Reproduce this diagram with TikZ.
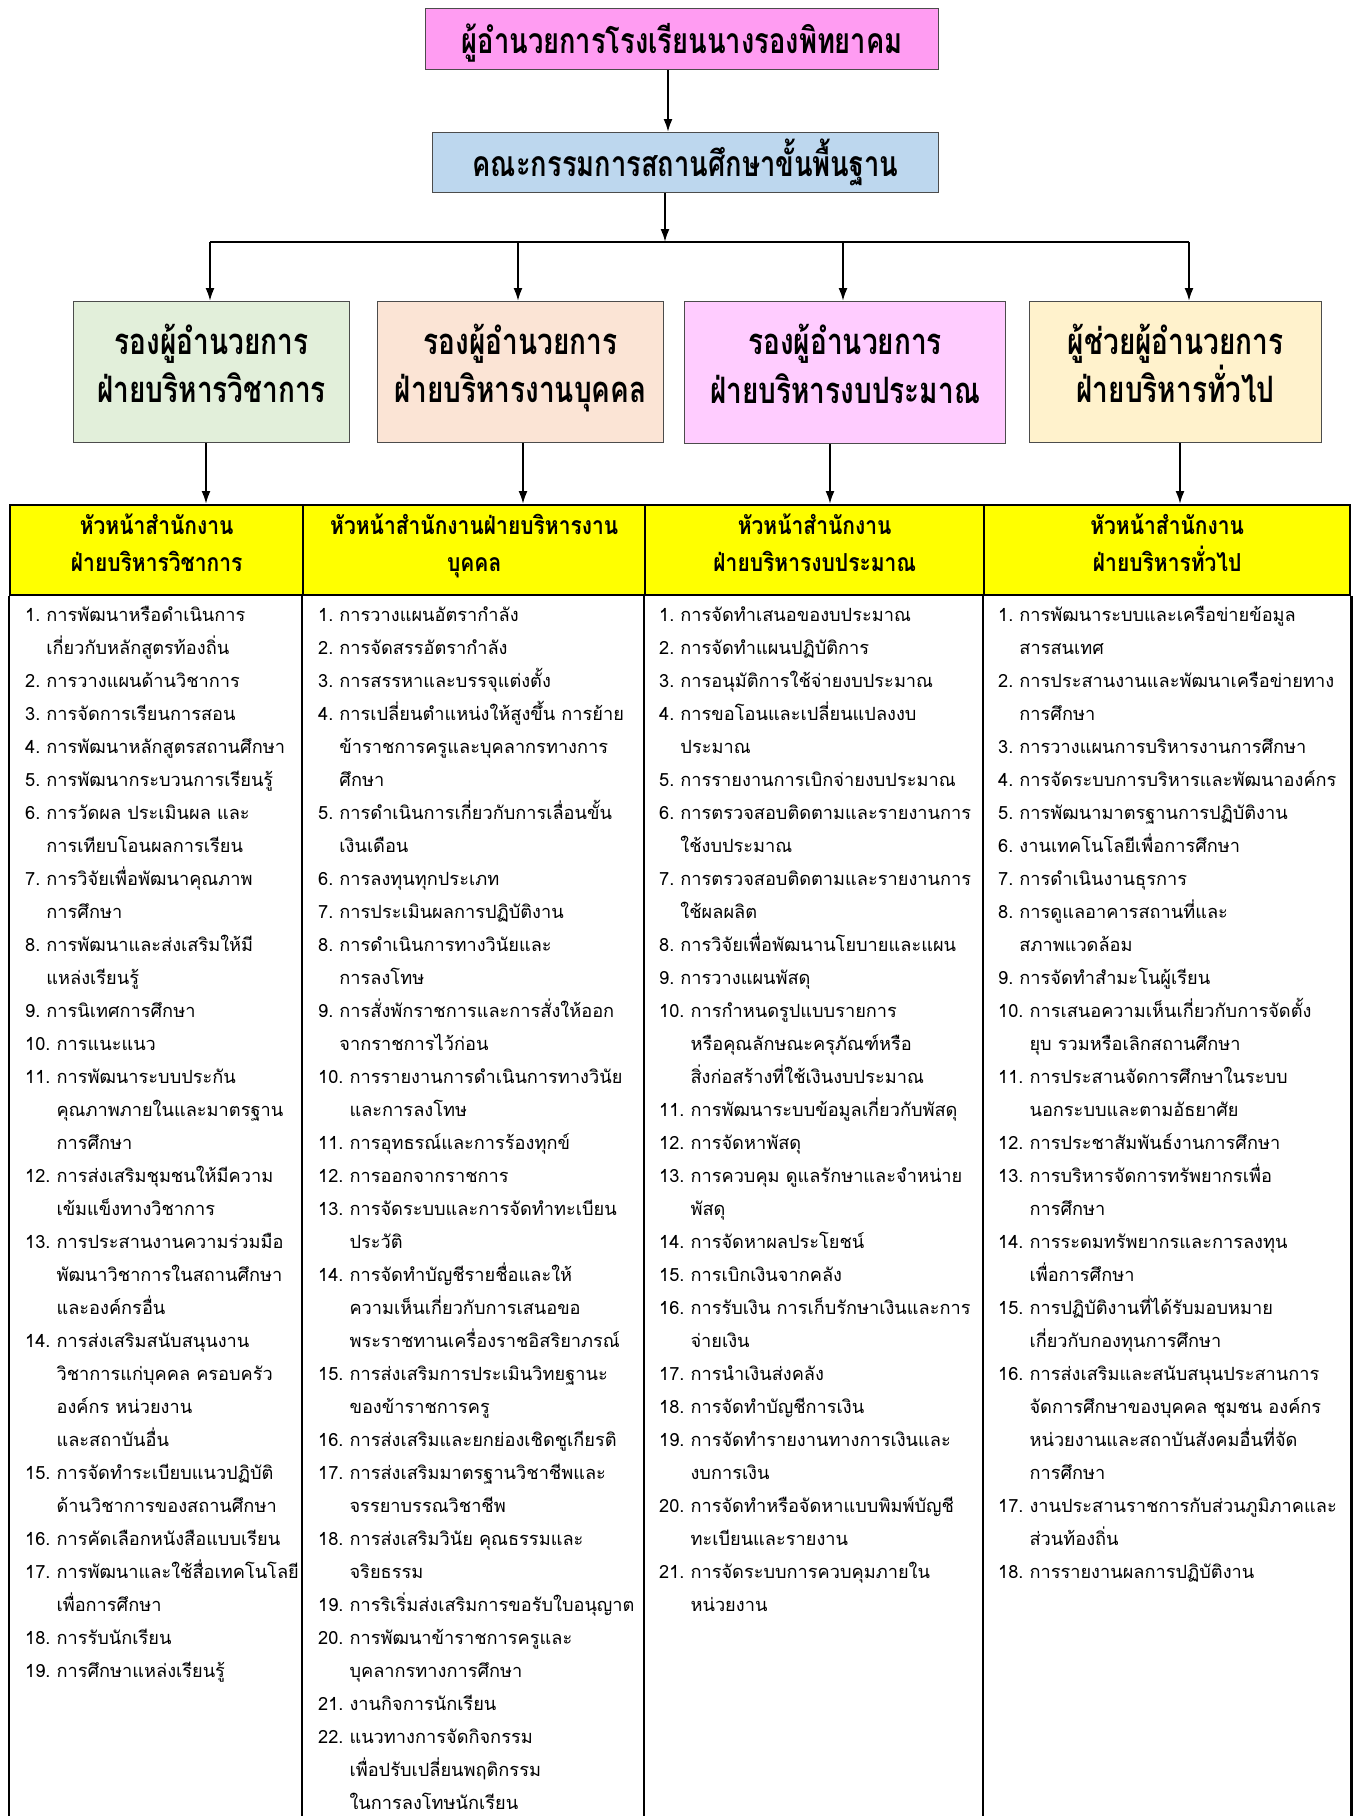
\documentclass[tikz,border=0pt]{standalone}
\usepackage{graphicx}
\usepackage{fontspec}
\newfontfamily\thai[Script=Thai]{Loma}
\usetikzlibrary{arrows.meta}
\definecolor{topfill}{HTML}{FF9CF2}
\definecolor{boardfill}{HTML}{BDD7EE}
\definecolor{acadfill}{HTML}{E2EFDA}
\definecolor{persfill}{HTML}{FBE4D5}
\definecolor{budgfill}{HTML}{FFCCFF}
\definecolor{genfill}{HTML}{FFF2CC}
\definecolor{headfill}{HTML}{FFFF00}
\newlength\numw
% one numbered duty with a hanging indent under its text
\newcommand\li[2]{\settowidth\numw{#1.\ }\hangindent=\numw\hangafter=1\noindent#1.\ #2\par}
% equal height and depth for every line of a two-line title
\newcommand\eqln{\vphantom{ผู้ปั้}}
% narrow, tall lettering for the titles
\newcommand\tall[1]{\scalebox{1}[1.3]{\eqln #1}}
\newcommand\tallh[1]{\scalebox{1}[1.18]{\eqln #1}}
\begin{document}
\begin{tikzpicture}[x=1pt,y=-1pt,
  rolebox/.style={draw=black!70,line width=1.2pt,align=center,inner sep=0pt,
    anchor=north west,font=\thai\bfseries\fontsize{28}{45}\selectfont},
  topbox/.style={draw=black!70,line width=1.2pt,inner sep=0pt,anchor=north west,
    font=\thai\bfseries\fontsize{27.3}{30}\selectfont},
  headcell/.style={draw=black,line width=2.4pt,fill=headfill,inner sep=0pt,
    anchor=north west,minimum height=90pt},
  headtext/.style={align=center,font=\thai\bfseries\fontsize{21}{37}\selectfont},
  duties/.style={anchor=base west,text width=400pt,align=left,inner sep=0pt,
    font=\thai\fontsize{18.2}{33}\selectfont},
  arr/.style={line width=2pt,-{Latex[length=13pt,width=9pt]}},
  tbl/.style={line width=2.4pt}]
\useasboundingbox (0,0) rectangle (1357,1816);
\fill[white] (0,0) rectangle (1357,1816);

% top of the chart
\node[topbox,fill=topfill,minimum width=513pt,minimum height=61pt] (top) at (425,8)
  {\tall{ผู้อำนวยการโรงเรียนนางรองพิทยาคม}};
\node[topbox,fill=boardfill,minimum width=506pt,minimum height=60pt] (board) at (432,132)
  {\tall{คณะกรรมการสถานศึกษาขั้นพื้นฐาน}};

% deputy directors
\node[rolebox,fill=acadfill,minimum width=276pt,minimum height=141pt] (v1) at (73,301)
  {\tall{รองผู้อำนวยการ}\\\tall{ฝ่ายบริหารวิชาการ}\rule[-26pt]{0pt}{0pt}};
\node[rolebox,fill=persfill,minimum width=286pt,minimum height=141pt] (v2) at (377,301)
  {\tall{รองผู้อำนวยการ}\\\tall{ฝ่ายบริหารงานบุคคล}\rule[-26pt]{0pt}{0pt}};
\node[rolebox,fill=budgfill,minimum width=321pt,minimum height=142pt] (v3) at (684,301)
  {\tall{รองผู้อำนวยการ}\\\tall{ฝ่ายบริหารงบประมาณ}\rule[-26pt]{0pt}{0pt}};
\node[rolebox,fill=genfill,minimum width=292pt,minimum height=141pt] (v4) at (1029,301)
  {\tall{ผู้ช่วยผู้อำนวยการ}\\\tall{ฝ่ายบริหารทั่วไป}\rule[-26pt]{0pt}{0pt}};

% connectors between the levels
\coordinate (tdrop) at (668,69);
\coordinate (bdrop) at (665,242);
\coordinate (j1) at (210,242);
\coordinate (j2) at (518,242);
\coordinate (j3) at (843,242);
\coordinate (j4) at (1189,242);
\draw[arr] (top.south -| tdrop) -- (board.north -| tdrop);
\draw[arr] (board.south -| bdrop) -- (bdrop);
\draw[line width=2pt] (j1) -- (j4);
\foreach \i in {1,2,3,4} \draw[arr] (j\i) -- (v\i.north -| j\i);

% table header
\node[headcell,minimum width=293pt] (h1) at (9,504) {};
\node[headcell,minimum width=342pt] (h2) at (302,504) {};
\node[headcell,minimum width=339pt] (h3) at (644,504) {};
\node[headcell,minimum width=366pt] (h4) at (983,504) {};
\node[headtext] (t1) at ([yshift=7pt]h1.center) {\tallh{หัวหน้าสำนักงาน}\\\tallh{ฝ่ายบริหารวิชาการ}};
\node[headtext] (t2) at ([yshift=7pt]h2.center) {\tallh{หัวหน้าสำนักงานฝ่ายบริหารงาน}\\\tallh{บุคคล}};
\node[headtext] (t3) at ([yshift=7pt]h3.center) {\tallh{หัวหน้าสำนักงาน}\\\tallh{ฝ่ายบริหารงบประมาณ}};
\node[headtext] (t4) at ([yshift=7pt]h4.center) {\tallh{หัวหน้าสำนักงาน}\\\tallh{ฝ่ายบริหารทั่วไป}};

% arrows from the deputies to the office heads
\coordinate (k1) at (206,504);
\coordinate (k2) at (523,504);
\coordinate (k3) at (830,504);
\coordinate (k4) at (1180,504);
\foreach \i in {1,2,3,4} \draw[arr] (v\i.south -| k\i) -- (k\i);

% table body rules
\draw[tbl] (h1.south west) -- ++(0,1222);
\draw[tbl] (h2.south west) -- ++(0,1222);
\draw[tbl] (h3.south west) -- ++(0,1222);
\draw[tbl] (h4.south west) -- ++(0,1222);
\draw[tbl] (h4.south east) -- ++(0,1222);

% duties of each office
\node[duties] (c1) at (25,621) {%
\li{1}{การพัฒนาหรือดำเนินการ\newline เกี่ยวกับหลักสูตรท้องถิ่น}
\li{2}{การวางแผนด้านวิชาการ}
\li{3}{การจัดการเรียนการสอน}
\li{4}{การพัฒนาหลักสูตรสถานศึกษา}
\li{5}{การพัฒนากระบวนการเรียนรู้}
\li{6}{การวัดผล ประเมินผล และ\newline การเทียบโอนผลการเรียน}
\li{7}{การวิจัยเพื่อพัฒนาคุณภาพ\newline การศึกษา}
\li{8}{การพัฒนาและส่งเสริมให้มี\newline แหล่งเรียนรู้}
\li{9}{การนิเทศการศึกษา}
\li{10}{การแนะแนว}
\li{11}{การพัฒนาระบบประกัน\newline คุณภาพภายในและมาตรฐาน\newline การศึกษา}
\li{12}{การส่งเสริมชุมชนให้มีความ\newline เข้มแข็งทางวิชาการ}
\li{13}{การประสานงานความร่วมมือ\newline พัฒนาวิชาการในสถานศึกษา\newline และองค์กรอื่น}
\li{14}{การส่งเสริมสนับสนุนงาน\newline วิชาการแก่บุคคล ครอบครัว\newline องค์กร หน่วยงาน\newline และสถาบันอื่น}
\li{15}{การจัดทำระเบียบแนวปฏิบัติ\newline ด้านวิชาการของสถานศึกษา}
\li{16}{การคัดเลือกหนังสือแบบเรียน}
\li{17}{การพัฒนาและใช้สื่อเทคโนโลยี\newline เพื่อการศึกษา}
\li{18}{การรับนักเรียน}
\li{19}{การศึกษาแหล่งเรียนรู้}};

\node[duties] (c2) at (318,621) {%
\li{1}{การวางแผนอัตรากำลัง}
\li{2}{การจัดสรรอัตรากำลัง}
\li{3}{การสรรหาและบรรจุแต่งตั้ง}
\li{4}{การเปลี่ยนตำแหน่งให้สูงขึ้น การย้าย\newline ข้าราชการครูและบุคลากรทางการ\newline ศึกษา}
\li{5}{การดำเนินการเกี่ยวกับการเลื่อนขั้น\newline เงินเดือน}
\li{6}{การลงทุนทุกประเภท}
\li{7}{การประเมินผลการปฏิบัติงาน}
\li{8}{การดำเนินการทางวินัยและ\newline การลงโทษ}
\li{9}{การสั่งพักราชการและการสั่งให้ออก\newline จากราชการไว้ก่อน}
\li{10}{การรายงานการดำเนินการทางวินัย\newline และการลงโทษ}
\li{11}{การอุทธรณ์และการร้องทุกข์}
\li{12}{การออกจากราชการ}
\li{13}{การจัดระบบและการจัดทำทะเบียน\newline ประวัติ}
\li{14}{การจัดทำบัญชีรายชื่อและให้\newline ความเห็นเกี่ยวกับการเสนอขอ\newline พระราชทานเครื่องราชอิสริยาภรณ์}
\li{15}{การส่งเสริมการประเมินวิทยฐานะ\newline ของข้าราชการครู}
\li{16}{การส่งเสริมและยกย่องเชิดชูเกียรติ}
\li{17}{การส่งเสริมมาตรฐานวิชาชีพและ\newline จรรยาบรรณวิชาชีพ}
\li{18}{การส่งเสริมวินัย คุณธรรมและ\newline จริยธรรม}
\li{19}{การริเริ่มส่งเสริมการขอรับใบอนุญาต}
\li{20}{การพัฒนาข้าราชการครูและ\newline บุคลากรทางการศึกษา}
\li{21}{งานกิจการนักเรียน}
\li{22}{แนวทางการจัดกิจกรรม\newline เพื่อปรับเปลี่ยนพฤติกรรม\newline ในการลงโทษนักเรียน}};

\node[duties] (c3) at (659,621) {%
\li{1}{การจัดทำเสนอของบประมาณ}
\li{2}{การจัดทำแผนปฏิบัติการ}
\li{3}{การอนุมัติการใช้จ่ายงบประมาณ}
\li{4}{การขอโอนและเปลี่ยนแปลงงบ\newline ประมาณ}
\li{5}{การรายงานการเบิกจ่ายงบประมาณ}
\li{6}{การตรวจสอบติดตามและรายงานการ\newline ใช้งบประมาณ}
\li{7}{การตรวจสอบติดตามและรายงานการ\newline ใช้ผลผลิต}
\li{8}{การวิจัยเพื่อพัฒนานโยบายและแผน}
\li{9}{การวางแผนพัสดุ}
\li{10}{การกำหนดรูปแบบรายการ\newline หรือคุณลักษณะครุภัณฑ์หรือ\newline สิ่งก่อสร้างที่ใช้เงินงบประมาณ}
\li{11}{การพัฒนาระบบข้อมูลเกี่ยวกับพัสดุ}
\li{12}{การจัดหาพัสดุ}
\li{13}{การควบคุม ดูแลรักษาและจำหน่าย\newline พัสดุ}
\li{14}{การจัดหาผลประโยชน์}
\li{15}{การเบิกเงินจากคลัง}
\li{16}{การรับเงิน การเก็บรักษาเงินและการ\newline จ่ายเงิน}
\li{17}{การนำเงินส่งคลัง}
\li{18}{การจัดทำบัญชีการเงิน}
\li{19}{การจัดทำรายงานทางการเงินและ\newline งบการเงิน}
\li{20}{การจัดทำหรือจัดหาแบบพิมพ์บัญชี\newline ทะเบียนและรายงาน}
\li{21}{การจัดระบบการควบคุมภายใน\newline หน่วยงาน}};

\node[duties] (c4) at (998,621) {%
\li{1}{การพัฒนาระบบและเครือข่ายข้อมูล\newline สารสนเทศ}
\li{2}{การประสานงานและพัฒนาเครือข่ายทาง\newline การศึกษา}
\li{3}{การวางแผนการบริหารงานการศึกษา}
\li{4}{การจัดระบบการบริหารและพัฒนาองค์กร}
\li{5}{การพัฒนามาตรฐานการปฏิบัติงาน}
\li{6}{งานเทคโนโลยีเพื่อการศึกษา}
\li{7}{การดำเนินงานธุรการ}
\li{8}{การดูแลอาคารสถานที่และ\newline สภาพแวดล้อม}
\li{9}{การจัดทำสำมะโนผู้เรียน}
\li{10}{การเสนอความเห็นเกี่ยวกับการจัดตั้ง\newline ยุบ รวมหรือเลิกสถานศึกษา}
\li{11}{การประสานจัดการศึกษาในระบบ\newline นอกระบบและตามอัธยาศัย}
\li{12}{การประชาสัมพันธ์งานการศึกษา}
\li{13}{การบริหารจัดการทรัพยากรเพื่อ\newline การศึกษา}
\li{14}{การระดมทรัพยากรและการลงทุน\newline เพื่อการศึกษา}
\li{15}{การปฏิบัติงานที่ได้รับมอบหมาย\newline เกี่ยวกับกองทุนการศึกษา}
\li{16}{การส่งเสริมและสนับสนุนประสานการ\newline จัดการศึกษาของบุคคล ชุมชน องค์กร\newline หน่วยงานและสถาบันสังคมอื่นที่จัด\newline การศึกษา}
\li{17}{งานประสานราชการกับส่วนภูมิภาคและ\newline ส่วนท้องถิ่น}
\li{18}{การรายงานผลการปฏิบัติงาน}};
\end{tikzpicture}
\end{document}
